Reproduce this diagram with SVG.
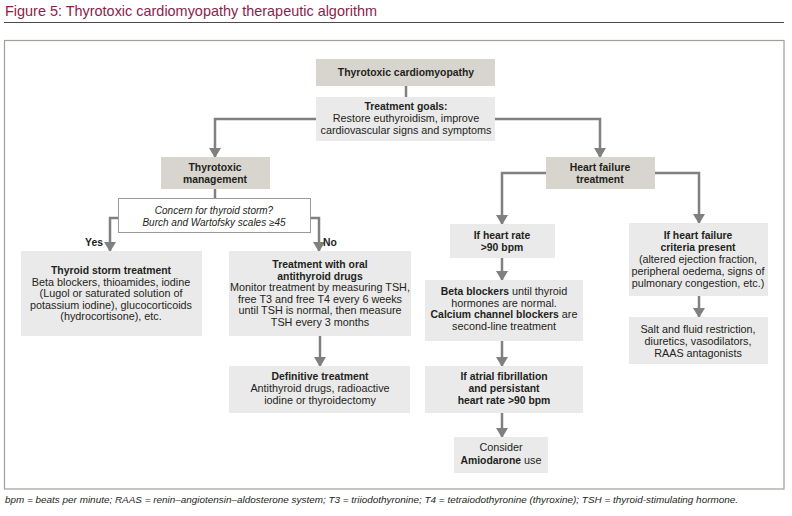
<svg xmlns="http://www.w3.org/2000/svg" width="792" height="516" viewBox="0 0 792 516">
<style>
text{font-family:"Liberation Sans",Arial,sans-serif;font-size:10.8px;fill:#231f20;text-anchor:middle}
.b{font-weight:bold;font-size:10.4px}
tspan.b{font-size:10.4px}
.i{font-style:italic;font-size:10px}
.dark{fill:#d7d5ce}
.light{fill:#ebeaea}
.con{fill:none;stroke:#808080;stroke-width:2.5}
</style>
<defs>
<marker id="ah" markerUnits="userSpaceOnUse" markerWidth="12" markerHeight="10" refX="6" refY="9" orient="0" viewBox="0 0 12 10">
<path d="M0,0 L12,0 L6,10 Z" fill="#808080"/>
</marker>
</defs>
<rect width="792" height="516" fill="#fff"/>
<text x="5" y="16" style="font-size:15px;fill:#8b1d4c;text-anchor:start" textLength="372" lengthAdjust="spacingAndGlyphs">Figure 5: Thyrotoxic cardiomyopathy therapeutic algorithm</text>
<line x1="4" y1="22.5" x2="784" y2="22.5" stroke="#4a4a4a" stroke-width="1.2"/>
<rect x="4.5" y="40.5" width="779.5" height="448.5" fill="none" stroke="#a09f98" stroke-width="1.2"/>

<g id="connectors">
<path class="con" d="M406,86 V97"/>
<path class="con" d="M316,119 H215 V157" marker-end="url(#ah)"/>
<path class="con" d="M495,119 H600 V157" marker-end="url(#ah)"/>
<path class="con" d="M215,189 V198"/>
<path class="con" d="M118,218 H110 V251" marker-end="url(#ah)"/>
<path class="con" d="M311,218 H319 V251" marker-end="url(#ah)"/>
<path class="con" d="M320,336 V366" marker-end="url(#ah)"/>
<path class="con" d="M546,173 H502 V224" marker-end="url(#ah)"/>
<path class="con" d="M655,173 H699 V223" marker-end="url(#ah)"/>
<path class="con" d="M502,258 V280" marker-end="url(#ah)"/>
<path class="con" d="M502,341 V366" marker-end="url(#ah)"/>
<path class="con" d="M502,413 V437" marker-end="url(#ah)"/>
<path class="con" d="M699,296 V317" marker-end="url(#ah)"/>
<text x="103" y="246" class="b" style="text-anchor:end">Yes</text>
<text x="323" y="246" class="b" style="text-anchor:start">No</text>
</g>

<g id="n-tcm">
<rect class="dark" x="316" y="59" width="179" height="27"/>
<text x="406" y="76" class="b">Thyrotoxic cardiomyopathy</text>
</g>
<g id="n-goals">
<rect class="light" x="316" y="97" width="179" height="44"/>
<text x="406" y="110" class="b">Treatment goals:</text>
<text x="406" y="122">Restore euthyroidism, improve</text>
<text x="406" y="134">cardiovascular signs and symptoms</text>
</g>
<g id="n-tm">
<rect class="dark" x="161" y="157" width="109" height="32"/>
<text x="215" y="171" class="b">Thyrotoxic</text>
<text x="215" y="183" class="b">management</text>
</g>
<g id="n-concern">
<rect x="118.5" y="198.5" width="192" height="34" fill="#fff" stroke="#9a9a9a" stroke-width="1"/>
<text x="214" y="214" class="i">Concern for thyroid storm?</text>
<text x="214" y="226" class="i">Burch and Wartofsky scales ≥45</text>
</g>
<g id="n-storm">
<rect class="light" x="21" y="251" width="181" height="85"/>
<text x="111" y="274" class="b">Thyroid storm treatment</text>
<text x="111" y="285.5">Beta blockers, thioamides, iodine</text>
<text x="111" y="297">(Lugol or saturated solution of</text>
<text x="111" y="308.5">potassium iodine), glucocorticoids</text>
<text x="111" y="320">(hydrocortisone), etc.</text>
</g>
<g id="n-oral">
<rect class="light" x="229" y="251" width="182" height="85"/>
<text x="320" y="268" class="b">Treatment with oral</text>
<text x="320" y="279.5" class="b">antithyroid drugs</text>
<text x="320" y="291">Monitor treatment by measuring TSH,</text>
<text x="320" y="302.5">free T3 and free T4 every 6 weeks</text>
<text x="320" y="314">until TSH is normal, then measure</text>
<text x="320" y="325.5">TSH every 3 months</text>
</g>
<g id="n-def">
<rect class="light" x="229" y="366" width="181" height="47"/>
<text x="320" y="380" class="b">Definitive treatment</text>
<text x="320" y="392">Antithyroid drugs, radioactive</text>
<text x="320" y="404">iodine or thyroidectomy</text>
</g>
<g id="n-hf">
<rect class="dark" x="546" y="157" width="109" height="32"/>
<text x="600" y="171" class="b">Heart failure</text>
<text x="600" y="183" class="b">treatment</text>
</g>
<g id="n-hr">
<rect class="light" x="450" y="224" width="105" height="34"/>
<text x="502" y="239" class="b">If heart rate</text>
<text x="502" y="251" class="b">&gt;90 bpm</text>
</g>
<g id="n-beta">
<rect class="light" x="425" y="280" width="158" height="61"/>
<text x="504" y="295"><tspan class="b">Beta blockers</tspan> until thyroid</text>
<text x="504" y="306.5">hormones are normal.</text>
<text x="504" y="318"><tspan class="b">Calcium channel blockers</tspan> are</text>
<text x="504" y="329.5">second-line treatment</text>
</g>
<g id="n-af">
<rect class="light" x="425" y="366" width="158" height="47"/>
<text x="504" y="380" class="b">If atrial fibrillation</text>
<text x="504" y="392" class="b">and persistant</text>
<text x="504" y="404" class="b">heart rate &gt;90 bpm</text>
</g>
<g id="n-amio">
<rect class="light" x="454" y="437" width="94" height="36"/>
<text x="501" y="451">Consider</text>
<text x="501" y="463.5"><tspan class="b">Amiodarone</tspan> use</text>
</g>
<g id="n-hfc">
<rect class="light" x="629" y="223" width="139" height="73"/>
<text x="698" y="239" class="b">If heart failure</text>
<text x="698" y="251" class="b">criteria present</text>
<text x="698" y="263">(altered ejection fraction,</text>
<text x="698" y="275">peripheral oedema, signs of</text>
<text x="698" y="287">pulmonary congestion, etc.)</text>
</g>
<g id="n-salt">
<rect class="light" x="629" y="317" width="139" height="47"/>
<text x="698" y="333">Salt and fluid restriction,</text>
<text x="698" y="345">diuretics, vasodilators,</text>
<text x="698" y="357">RAAS antagonists</text>
</g>
<text x="5" y="503" class="i" style="font-size:9.5px;text-anchor:start" textLength="733" lengthAdjust="spacingAndGlyphs">bpm = beats per minute; RAAS = renin–angiotensin–aldosterone system; T3 = triiodothyronine; T4 = tetraiodothyronine (thyroxine); TSH = thyroid-stimulating hormone.</text>
</svg>
